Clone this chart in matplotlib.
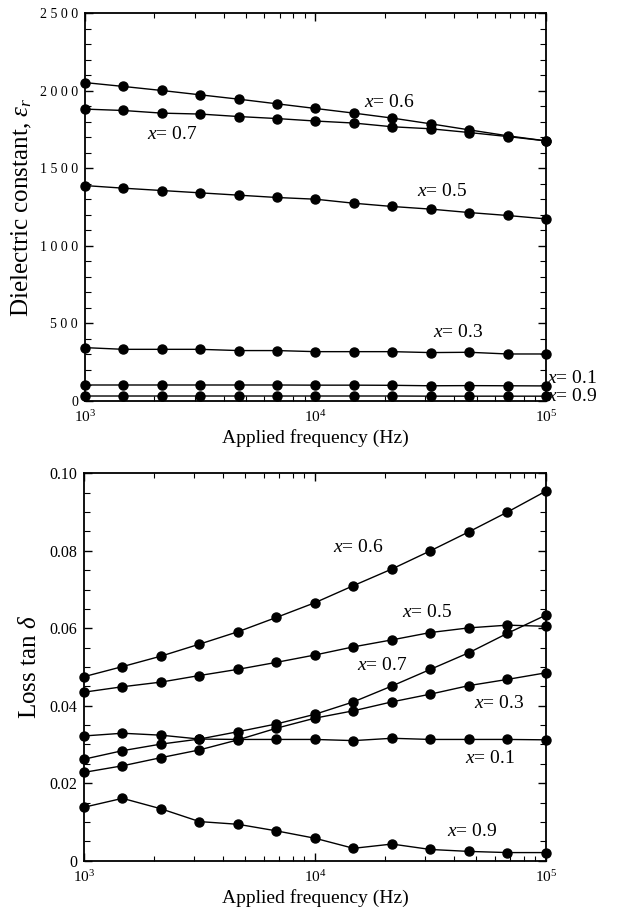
import numpy as np
import matplotlib
matplotlib.use("Agg")
import matplotlib.pyplot as plt
from matplotlib.ticker import MultipleLocator, FixedLocator, NullFormatter, LogLocator, FixedFormatter

plt.rcParams['font.family'] = ['Liberation Serif', 'DejaVu Serif']
plt.rcParams['mathtext.fontset'] = 'custom'
plt.rcParams['mathtext.rm'] = 'Liberation Serif'
plt.rcParams['mathtext.it'] = 'Liberation Serif:italic'
plt.rcParams['mathtext.bf'] = 'Liberation Serif:bold'

# Frequencies (Hz), 13 log-spaced points
freq = [1000, 1468, 2154, 3162, 4642, 6813, 10000, 14678, 21544, 31623, 46416, 68129, 100000]

# Dielectric constant
eps_01 = [103, 103, 103, 103, 103, 103, 102, 102, 101, 98, 99, 98, 97]
eps_03 = [344, 333, 333, 333, 325, 325, 318, 318, 318, 312, 314, 303, 303]
eps_05 = [1389, 1372, 1357, 1342, 1327, 1312, 1301, 1275, 1254, 1237, 1215, 1196, 1174]
eps_06 = [2053, 2028, 2002, 1974, 1946, 1916, 1886, 1856, 1824, 1787, 1748, 1710, 1677]
eps_07 = [1882, 1873, 1856, 1850, 1834, 1821, 1805, 1792, 1768, 1755, 1731, 1705, 1677]
eps_09 = [32, 32, 32, 32, 32, 32, 32, 32, 32, 31, 31, 31, 31]

# Loss tangent
tan_01 = [0.0322, 0.0329, 0.0324, 0.0314, 0.0313, 0.0313, 0.0313, 0.0310, 0.0316, 0.0313, 0.0313, 0.0313, 0.0312]
tan_03 = [0.0228, 0.0245, 0.0266, 0.0286, 0.0312, 0.0342, 0.0368, 0.0387, 0.0410, 0.0430, 0.0452, 0.0468, 0.0485]
tan_05 = [0.0435, 0.0449, 0.0461, 0.0478, 0.0494, 0.0512, 0.0531, 0.0552, 0.0570, 0.0589, 0.0601, 0.0608, 0.0605]
tan_06 = [0.0475, 0.0501, 0.0528, 0.0559, 0.0591, 0.0628, 0.0666, 0.0710, 0.0753, 0.0800, 0.0849, 0.0900, 0.0954]
tan_07 = [0.0262, 0.0284, 0.0301, 0.0314, 0.0333, 0.0353, 0.0378, 0.0410, 0.0451, 0.0494, 0.0537, 0.0587, 0.0634]
tan_09 = [0.0138, 0.0161, 0.0134, 0.0101, 0.0094, 0.0077, 0.0058, 0.0032, 0.0043, 0.0029, 0.0024, 0.0021, 0.0021]

top_series = [eps_01, eps_03, eps_05, eps_06, eps_07, eps_09]
bot_series = [tan_01, tan_03, tan_05, tan_06, tan_07, tan_09]

top_labels = ["$x$= 0.6", "$x$= 0.7", "$x$= 0.5", "$x$= 0.3", "$x$= 0.1", "$x$= 0.9"]
bot_labels = ["$x$= 0.6", "$x$= 0.5", "$x$= 0.7", "$x$= 0.3", "$x$= 0.1", "$x$= 0.9"]

eps_ticks = [0, 500, 1000, 1500, 2000, 2500]
eps_ticklabels = ["0", "5 0 0", "1 0 0 0", "1 5 0 0", "2 0 0 0", "2 5 0 0"]
tan_ticks = [0, 0.02, 0.04, 0.06, 0.08, 0.10]
tan_ticklabels = ["0", "0.02", "0.04", "0.06", "0.08", "0.10"]
x_ticks = [1e3, 1e4, 1e5]
x_ticklabels = ["$10^3$", "$10^4$", "$10^5$"]

fig = plt.figure(figsize=(6.23, 9.14), dpi=100)
ax1 = fig.add_axes([0.1364, 0.5613, 0.740, 0.4242])
ax2 = fig.add_axes([0.1348, 0.0583, 0.7416, 0.4239])


def style(ax):
    ax.set_xscale('log')
    ax.set_xlim(1e3, 1e5)
    ax.xaxis.set_major_locator(FixedLocator(x_ticks))
    ax.xaxis.set_major_formatter(FixedFormatter(x_ticklabels))
    ax.xaxis.set_minor_locator(LogLocator(base=10, subs=np.arange(2, 10)))
    ax.xaxis.set_minor_formatter(NullFormatter())
    ax.tick_params(which='both', direction='in', top=True, right=True, colors='black')
    ax.tick_params(axis='x', which='major', length=6, width=1.0, labelsize=11, pad=6)
    ax.tick_params(axis='x', which='minor', length=3.5, width=0.8)
    ax.tick_params(axis='y', which='major', length=6, width=1.0, pad=5)
    ax.tick_params(axis='y', which='minor', length=4.5, width=0.8)
    for s in ax.spines.values():
        s.set_linewidth(1.3)
    ax.set_xlabel("Applied frequency (Hz)", fontsize=14, labelpad=3)


for ser in top_series:
    ax1.plot(freq, ser, color='black', lw=1.0, marker='o', ms=6.5, clip_on=False, zorder=3)
style(ax1)
ax1.set_ylim(0, 2500)
ax1.yaxis.set_major_locator(FixedLocator(eps_ticks))
ax1.yaxis.set_major_formatter(FixedFormatter(eps_ticklabels))
ax1.yaxis.set_minor_locator(MultipleLocator(100))
ax1.tick_params(axis='y', labelsize=10)
ax1.set_ylabel(r"Dielectric constant, $\varepsilon_r$", fontsize=18, labelpad=4)

top_pos = [(10**4.21, 1923), (10**3.27, 1716), (10**4.44, 1350), (10**4.51, 441), (10**5.005, 146), (10**5.005, 28)]
for (px, py), lab in zip(top_pos, top_labels):
    ax1.text(px, py, lab, fontsize=14, ha='left', va='center', clip_on=False)

for ser in bot_series:
    ax2.plot(freq, ser, color='black', lw=1.0, marker='o', ms=6.5, clip_on=False, zorder=3)
style(ax2)
ax2.set_ylim(0, 0.10)
ax2.yaxis.set_major_locator(FixedLocator(tan_ticks))
ax2.yaxis.set_major_formatter(FixedFormatter(tan_ticklabels))
ax2.yaxis.set_minor_locator(MultipleLocator(0.005))
ax2.tick_params(axis='y', labelsize=11.5)
ax2.set_ylabel(r"Loss tan $\delta$", fontsize=18, labelpad=6)

bot_pos = [(10**4.08, 0.0809), (10**4.375, 0.0640), (10**4.18, 0.0505), (10**4.69, 0.0406), (10**4.65, 0.0264), (10**4.57, 0.0075)]
for (px, py), lab in zip(bot_pos, bot_labels):
    ax2.text(px, py, lab, fontsize=14, ha='left', va='center')

fig.savefig("out.png", dpi=100)
